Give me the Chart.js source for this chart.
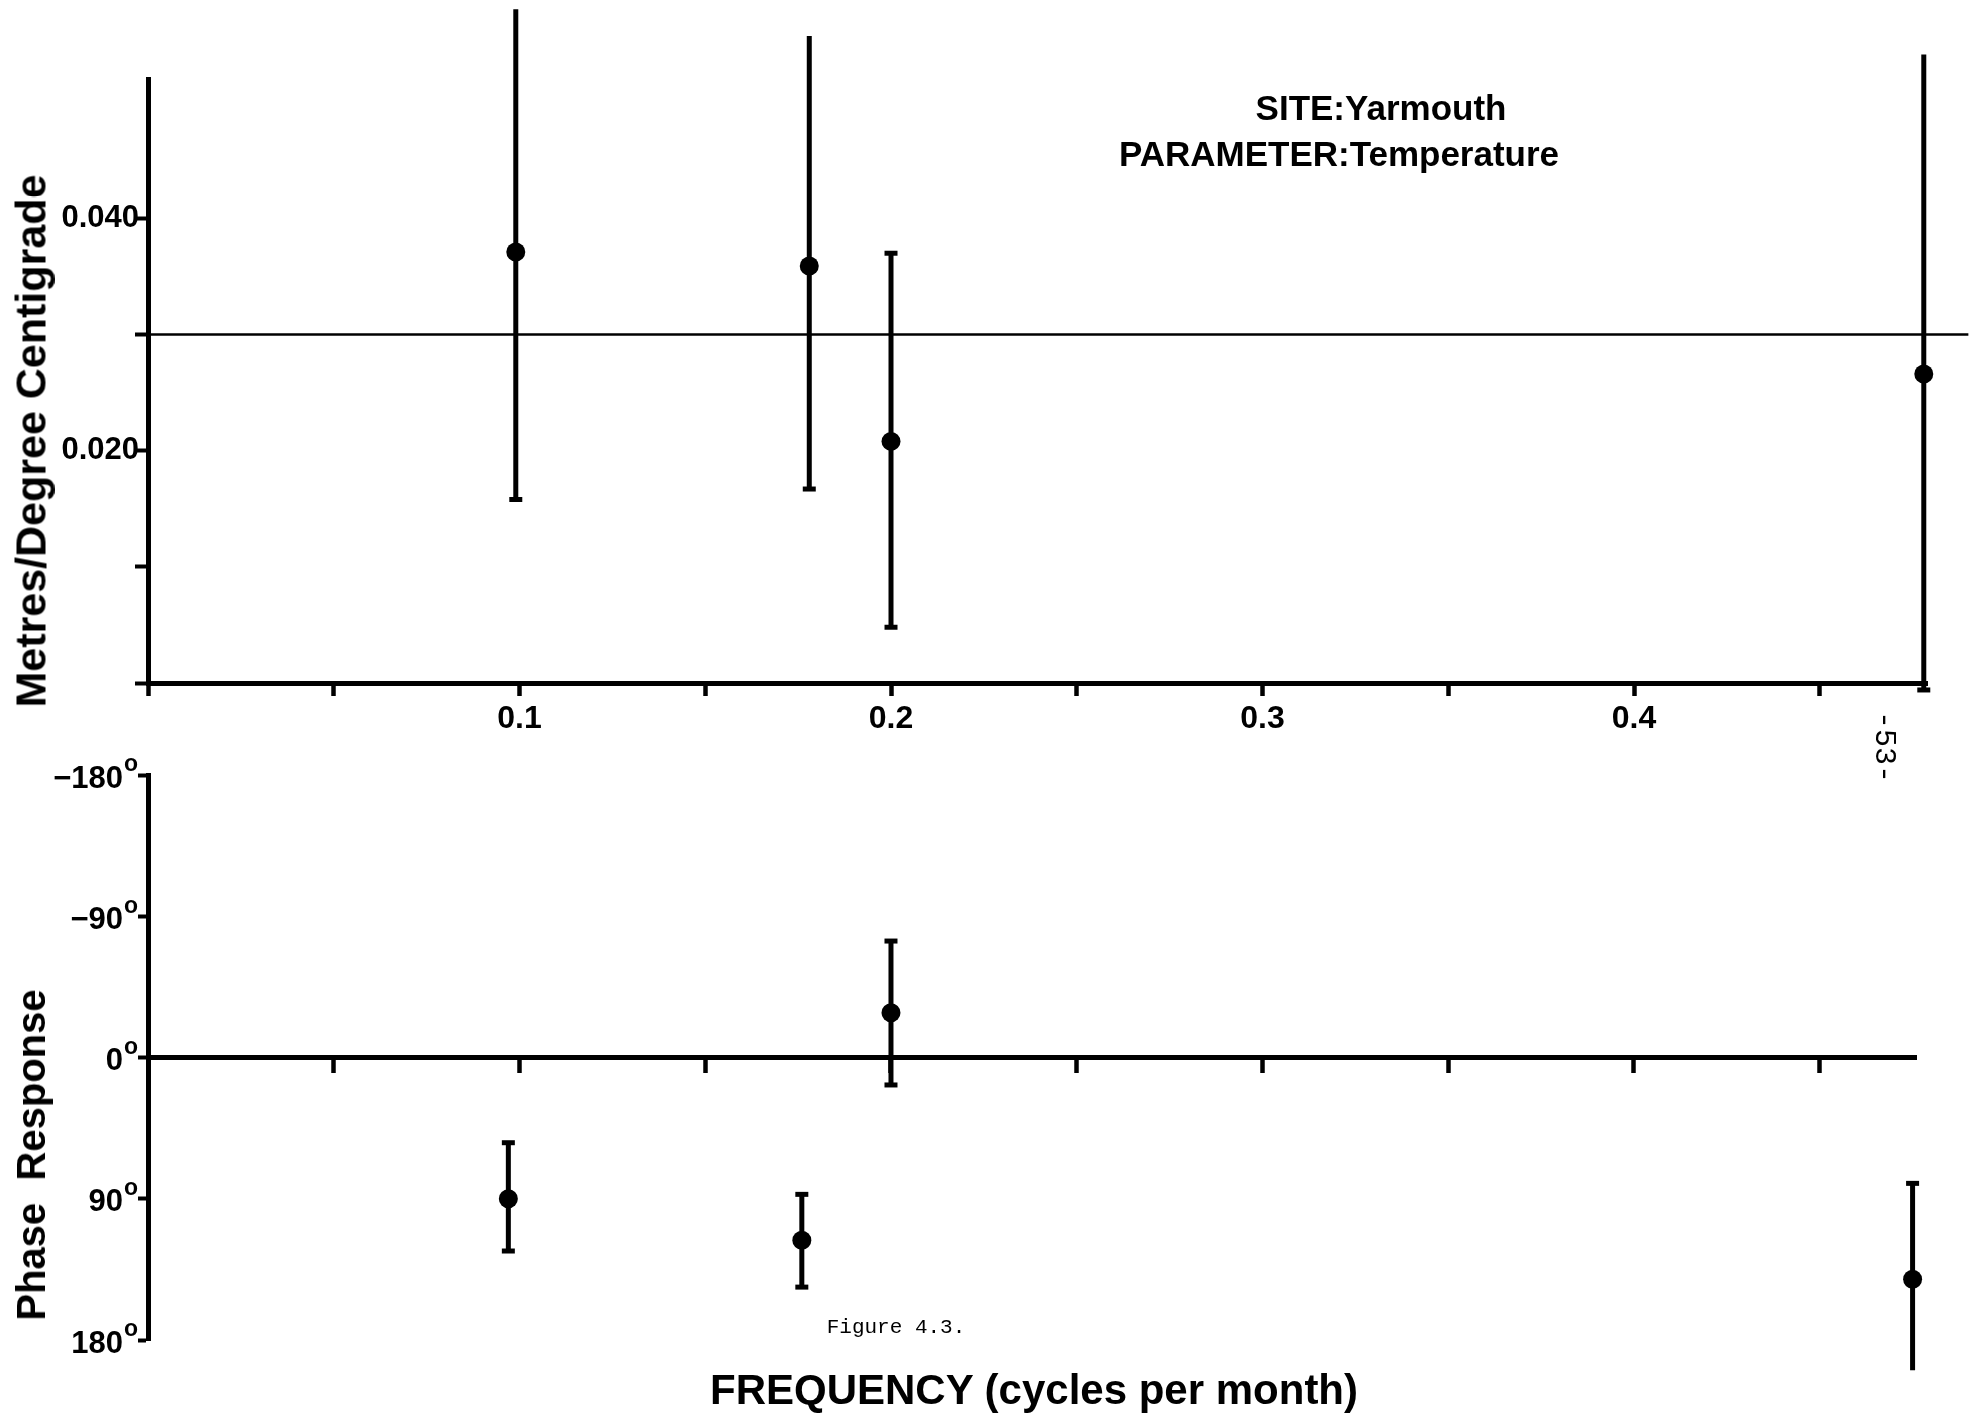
<!DOCTYPE html>
<html>
<head>
<meta charset="utf-8">
<script src="https://cdn.jsdelivr.net/npm/chart.js@4.4.1/dist/chart.umd.min.js"></script>
<style>
  html, body { margin: 0; padding: 0; background: #fff; }
  #page { position: relative; width: 1969px; height: 1414px; overflow: hidden; background: #fff; }
  canvas { position: absolute; left: 0; top: 0; }
  .txt { position: absolute; white-space: nowrap; line-height: 1; color: #000;
         font-family: 'Liberation Sans', Arial, sans-serif; font-weight: bold;
         transform: translate(-50%, -50%); }
  .rot { transform: translate(-50%, -50%) rotate(-90deg); }
</style>
</head>
<body>
<div id="page">
  <canvas id="gainChart" width="1969" height="1414"></canvas>
  <canvas id="phaseChart" width="1969" height="1414"></canvas>

  <div class="txt rot" style="left:31px; top:441px; font-size:43px;">Metres/Degree Centigrade</div>
  <div class="txt rot" style="left:31px; top:1155px; font-size:40px;">Phase&nbsp; Response</div>
  <div class="txt" style="left:1381px; top:107px; font-size:35px;">SITE:Yarmouth</div>
  <div class="txt" style="left:1339px; top:153px; font-size:35px;">PARAMETER:Temperature</div>
  <div class="txt" style="left:896px; top:1327px; font-size:21px; font-weight:normal; font-family:'Liberation Mono', monospace;">Figure 4.3.</div>
  <div class="txt" style="left:1034px; top:1390px; font-size:42px;">FREQUENCY (cycles per month)</div>
  <div class="txt" style="left:1884px; top:747px; font-size:30px; font-weight:normal; font-family:'Liberation Mono', monospace; transform: translate(-50%, -50%) rotate(90deg);">-53-</div>
</div>

<script>
// gain (top panel)
const gainFreq  = [0.099, 0.178, 0.200, 0.478];
const gainValue = [0.0371, 0.0359, 0.0208, 0.0266];
const gainLow   = [0.0158, 0.0167, 0.0048, -0.0006];
const gainHigh  = [0.0580, 0.0557, 0.0370, 0.0541];
const gainRefLevel = 0.030;

// phase (bottom panel), degrees
const phaseFreq  = [0.097, 0.176, 0.200, 0.475];
const phaseValue = [90.0, 116.5, -28.5, 141.3];
const phaseLow   = [54.3, 87.2, -74.2, 80.2];
const phaseHigh  = [123.3, 146.3, 17.5, 199.3];

// ticks
const freqTicks = [0, 0.05, 0.1, 0.15, 0.2, 0.25, 0.3, 0.35, 0.4, 0.45];
const freqTickLabels = ['', '', '0.1', '', '0.2', '', '0.3', '', '0.4', ''];
const gainTicks = [0, 0.01, 0.02, 0.03, 0.04];
const gainTickLabels = ['', '', '0.020', '', '0.040'];
const phaseTicks = [-180, -90, 0, 90, 180];
const phaseTickLabels = ['\u2212180', '\u221290', '0', '90', '180'];

Chart.defaults.font.family = "'Liberation Sans', Arial, sans-serif";
Chart.defaults.font.weight = 'bold';
Chart.defaults.color = '#000';

function errorBarPoints(freq, low, high) {
    const pts = [];
    freq.forEach((f, i) => {
        pts.push({x: f, y: low[i]}, {x: f, y: high[i]}, {x: f, y: null});
    });
    return pts;
}

function setTicks(values) {
    return scale => { scale.ticks = values.map(v => ({value: v})); };
}

const axisBorder = {display: true, color: '#000', width: 5};

// Top panel
new Chart(document.getElementById('gainChart'), {
    type: 'scatter',
    data: {
        datasets: [
            {
                data: [{x: 0, y: gainRefLevel}, {x: 0.49, y: gainRefLevel}],
                showLine: true, borderColor: '#000', borderWidth: 2.5,
                pointRadius: 0, clip: false
            },
            {
                data: errorBarPoints(gainFreq, gainLow, gainHigh),
                showLine: true, spanGaps: false, borderColor: '#000', borderWidth: 5,
                pointStyle: 'line', pointRadius: 6.5, pointBorderWidth: 5,
                pointBorderColor: '#000', clip: false
            },
            {
                data: gainFreq.map((f, i) => ({x: f, y: gainValue[i]})),
                pointRadius: 9.5, backgroundColor: '#000', borderWidth: 0, clip: false
            }
        ]
    },
    options: {
        responsive: false,
        animation: false,
        layout: {padding: {left: 0, right: 41.5, top: 79, bottom: 671}},
        plugins: {legend: {display: false}, tooltip: {enabled: false}},
        scales: {
            x: {
                type: 'linear', min: 0, max: 0.479,
                afterBuildTicks: setTicks(freqTicks),
                afterFit: scale => { scale.height = 60; },
                border: axisBorder,
                grid: {drawOnChartArea: false, drawTicks: true, tickLength: 13, tickWidth: 4.5, tickColor: '#000'},
                ticks: {
                    autoSkip: false, maxRotation: 0, padding: 4,
                    font: {size: 32, weight: 'bold'},
                    callback: (v, i) => freqTickLabels[i]
                }
            },
            y: {
                type: 'linear', min: 0, max: 0.052,
                afterBuildTicks: setTicks(gainTicks),
                afterFit: scale => { scale.width = 148; },
                border: axisBorder,
                grid: {drawOnChartArea: false, drawTicks: true, tickLength: 13, tickWidth: 4, tickColor: '#000'},
                ticks: {
                    autoSkip: false, padding: -4,
                    font: {size: 31, weight: 'bold'},
                    callback: (v, i) => gainTickLabels[i]
                }
            }
        }
    }
});

// degree labels with a raised "o", as in the original
const degreeLabels = {
    id: 'degreeLabels',
    afterDraw(chart) {
        const s = chart.scales.y;
        const ctx = chart.ctx;
        const right = s.right - 25;
        ctx.save();
        ctx.fillStyle = '#000';
        ctx.textBaseline = 'middle';
        s.ticks.forEach((t, i) => {
            const y = s.getPixelForValue(t.value);
            ctx.font = "bold 31px 'Liberation Sans', Arial, sans-serif";
            ctx.textAlign = 'right';
            ctx.fillText(phaseTickLabels[i], right, y + 4);
            ctx.font = "bold 23px 'Liberation Sans', Arial, sans-serif";
            ctx.textAlign = 'left';
            ctx.fillText('o', right + 1, y - 10);
        });
        ctx.restore();
    }
};

// Bottom panel
new Chart(document.getElementById('phaseChart'), {
    type: 'scatter',
    data: {
        datasets: [
            {
                data: errorBarPoints(phaseFreq, phaseLow, phaseHigh),
                showLine: true, spanGaps: false, borderColor: '#000', borderWidth: 5,
                pointStyle: 'line', pointRadius: 6.5, pointBorderWidth: 5,
                pointBorderColor: '#000', clip: false
            },
            {
                data: phaseFreq.map((f, i) => ({x: f, y: phaseValue[i]})),
                pointRadius: 9.5, backgroundColor: '#000', borderWidth: 0, clip: false
            }
        ]
    },
    options: {
        responsive: false,
        animation: false,
        layout: {padding: {left: 0, right: 52.7, top: 775, bottom: 74}},
        plugins: {legend: {display: false}, tooltip: {enabled: false}},
        scales: {
            x: {
                type: 'linear', min: 0, max: 0.476,
                position: {y: 0},
                afterBuildTicks: setTicks(freqTicks.slice(1)),
                border: axisBorder,
                grid: {drawOnChartArea: false, drawTicks: true, tickLength: 13, tickWidth: 4.5, tickColor: '#000'},
                ticks: {autoSkip: false, maxRotation: 0, callback: () => ''}
            },
            y: {
                type: 'linear', min: -180, max: 180, reverse: true,
                afterBuildTicks: setTicks(phaseTicks),
                afterFit: scale => { scale.width = 148; },
                border: axisBorder,
                grid: {drawOnChartArea: false, drawTicks: true, tickLength: 10, tickWidth: 4, tickColor: '#000'},
                ticks: {autoSkip: false, callback: () => ''}
            }
        }
    },
    plugins: [degreeLabels]
});
</script>
</body>
</html>
